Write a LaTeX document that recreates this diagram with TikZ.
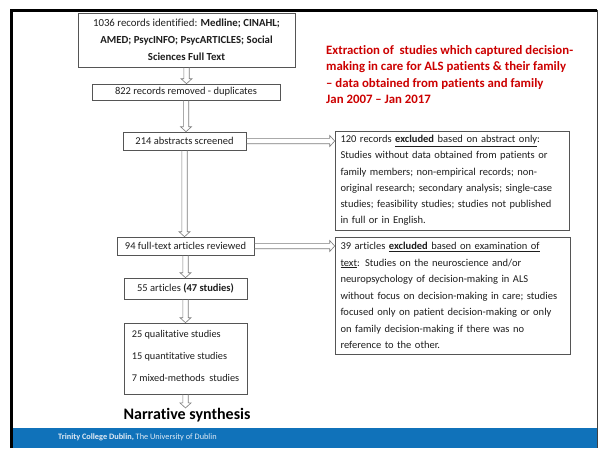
\documentclass[tikz,border=0pt]{standalone}
\usepackage{fontspec}
\setmainfont{Carlito}[Ligatures={TeX,NoCommon}]
\usetikzlibrary{calc}
\definecolor{tcdblue}{RGB}{16,114,186}
\definecolor{titlered}{RGB}{204,0,0}
\definecolor{boxline}{RGB}{85,85,85}
\definecolor{arrowline}{RGB}{125,125,125}
\definecolor{txt}{RGB}{30,30,30}
\definecolor{foottxt}{RGB}{225,235,245}
\begin{document}
\begin{tikzpicture}[x=1pt,y=-1pt,
  box/.style={draw=boxline, line width=0.6pt, fill=white, text=txt,
    font=\fontsize{10.5}{12}\selectfont, inner sep=0pt},
  leftbox/.style={box, align=left, inner xsep=5.5pt},
  downarrow/.style={draw=arrowline, line width=0.6pt,
    to path={let \p1=(\tikztostart), \p2=(\tikztotarget) in
      (\x1-2.7pt,\y1) -- (\x1-2.7pt,\y2+5pt) -- (\x1-5.5pt,\y2+5pt) -- (\x1,\y2)
      -- (\x1+5.5pt,\y2+5pt) -- (\x1+2.7pt,\y2+5pt) -- (\x1+2.7pt,\y1)}},
  rightarrow/.style={draw=arrowline, line width=0.6pt,
    to path={let \p1=(\tikztostart), \p2=(\tikztotarget) in
      (\x1,\y1-2.7pt) -- (\x2-5pt,\y1-2.7pt) -- (\x2-5pt,\y1-5.5pt) -- (\x2,\y1)
      -- (\x2-5pt,\y1+5.5pt) -- (\x2-5pt,\y1+2.7pt) -- (\x1,\y1+2.7pt)}}
]
\useasboundingbox (0,0) rectangle (599,448);
\fill[white] (0,0) rectangle (599,448);
% slide frame and footer band
\fill[tcdblue] (13,428) rectangle (597,448);
\draw[black, line width=3pt] (11.5,448) -- (11.5,10.3) -- (597,10.3);
\draw[black!75, line width=1.2pt] (597.5,10.3) -- (597.5,448);
\node[anchor=west, inner sep=0pt, text=foottxt, font=\fontsize{8.3}{9}\selectfont] (foot) at (58,437)
  {\textbf{Trinity College Dublin,} The University of Dublin};

% title
\node[anchor=north west, inner sep=0pt, align=left, text=titlered,
  font=\fontsize{12.8}{16.5}\selectfont\bfseries] (title) at (326,45)
  {Extraction of\ \ studies which captured decision-\\
   making in care for ALS patients \& their family\\
   -- data obtained from patients and family\\
   Jan 2007 -- Jan 2017};

% main flow
\node[box, minimum width=217, minimum height=54, align=center,
  font=\fontsize{10.8}{17}\selectfont] (b1) at (186.5,40)
  {1036 records identified: \textbf{Medline; CINAHL;}\\
   \textbf{AMED; PsycINFO; PsycARTICLES; Social}\\
   \textbf{Sciences Full Text}};
\node[box, minimum width=188, minimum height=16] (b2) at (186,92)
  {822 records removed - duplicates};
\node[box, minimum width=123, minimum height=18] (b3) at (184.5,141)
  {214 abstracts screened};
\node[box, minimum width=137, minimum height=18] (b4) at (185.5,246)
  {94 full-text articles reviewed};
\node[box, minimum width=123, minimum height=21] (b5) at (185.5,288.5)
  {55 articles \textbf{(47 studies)}};
\node[box, align=left, minimum width=123, minimum height=71,
  font=\fontsize{10.3}{22}\selectfont] (b6) at (185.5,358.5)
  {25 qualitative studies\\
   15 quantitative studies\\
   7 mixed-methods\ \ studies\rule[-6pt]{0pt}{6pt}};
\node[inner sep=0pt, text=black, font=\fontsize{16}{18}\selectfont\bfseries] (narr) at (187,415)
  {Narrative synthesis};

% exclusion boxes
\node[leftbox, text width=223, minimum height=99,
  font=\fontsize{10.5}{16.2}\selectfont] (b7) at (452,180.5)
  {120 records \underline{\textbf{excluded} based on abstract only}:\\
   Studies without data obtained from patients or\\
   family members; non-empirical records; non-\\
   original research; secondary analysis; single-case\\
   studies; feasibility studies; studies not published\\
   in full or in English.};
\node[leftbox, text width=224, minimum height=117,
  font=\fontsize{10.5}{16.5}\selectfont] (b8) at (452.5,295.5)
  {39 articles \underline{\textbf{excluded} based on examination of}\\
   \underline{text}: Studies on the neuroscience and/or\\
   neuropsychology of decision-making in ALS\\
   without focus on decision-making in care; studies\\
   focused only on patient decision-making or only\\
   on family decision-making if there was no\\
   reference to the other.};

% arrows
\draw[downarrow] (b1.south) to (b2.north);
\draw[downarrow] (b2.south) to (b3.north);
\draw[downarrow] (b3.south) to (b4.north);
\draw[downarrow] (b4.south) to (b5.north);
\draw[downarrow] (b5.south) to (b6.north);
\draw[downarrow] (b6.south) to (narr.north);
\draw[rightarrow] (b3.east) to (b7.west);
\draw[rightarrow] (b4.east) to (b8.west);
\end{tikzpicture}
\end{document}
